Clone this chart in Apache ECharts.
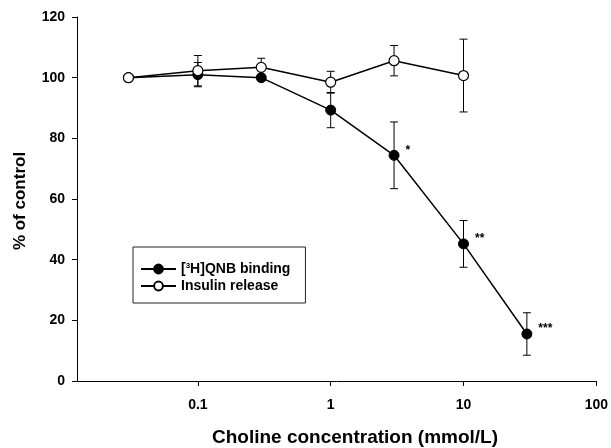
<!DOCTYPE html>
<html>
<head>
<meta charset="utf-8">
<script src="https://cdn.jsdelivr.net/npm/echarts@6/dist/echarts.min.js"></script>
<style>html,body{margin:0;padding:0;background:#fff}#c{width:611px;height:448px}</style>
</head>
<body>
<div id="c"></div>
<script>
// Choline concentrations (mmol/L)
var concQNB = [0.03, 0.1, 0.3, 1, 3, 10, 30];
var qnbBinding = [100, 101, 100, 89.3, 74.4, 45.2, 15.5];
var qnbErr = [0, 4, 1, 5.8, 11, 7.7, 7];
var qnbSig = ['', '', '', '', '*', '**', '***'];

var concIns = [0.03, 0.1, 0.3, 1, 3, 10];
var insulinRelease = [100, 102.3, 103.4, 98.5, 105.6, 100.7];
var insErr = [0, 5, 3, 3.6, 5, 12];

var xTickValues = [0.1, 1, 10, 100];
var xTickLabels = ['0.1', '1', '10', '100'];

var FONT = '"Liberation Sans", Arial, sans-serif';

function pts(xs, ys, sig) {
  return xs.map(function (x, i) {
    var d = { value: [x, ys[i]] };
    if (sig && sig[i]) {
      d.label = { show: true, formatter: sig[i] };
    }
    return d;
  });
}
function errData(xs, ys, es) {
  return xs.map(function (x, i) { return [x, ys[i], es[i]]; });
}
function errRender(params, api) {
  var x = api.value(0), y = api.value(1), e = api.value(2);
  if (!e) return null;
  var top = api.coord([x, y + e]);
  var bot = api.coord([x, y - e]);
  var w = 4;
  var st = { stroke: '#000', lineWidth: 1 };
  return {
    type: 'group',
    children: [
      { type: 'line', shape: { x1: top[0], y1: top[1], x2: bot[0], y2: bot[1] }, style: st },
      { type: 'line', shape: { x1: top[0] - w, y1: top[1], x2: top[0] + w, y2: top[1] }, style: st },
      { type: 'line', shape: { x1: bot[0] - w, y1: bot[1], x2: bot[0] + w, y2: bot[1] }, style: st }
    ]
  };
}

var chart = echarts.init(document.getElementById('c'), null, { renderer: 'canvas' });
chart.setOption({
  animation: false,
  backgroundColor: '#fff',
  textStyle: { fontFamily: FONT },
  grid: { left: 77, right: 14, top: 17, bottom: 67 },
  xAxis: {
    type: 'log',
    logBase: 10,
    min: 0.0123,
    max: 100,
    axisLine: { lineStyle: { color: '#000', width: 1 } },
    axisTick: { show: true, length: 5, lineStyle: { color: '#000' }, customValues: xTickValues },
    minorTick: { show: false },
    splitLine: { show: false },
    axisLabel: {
      customValues: xTickValues,
      margin: 17,
      color: '#000',
      fontSize: 14,
      fontWeight: 'bold',
      fontFamily: FONT,
      formatter: function (v) {
        for (var i = 0; i < xTickValues.length; i++) {
          if (Math.abs(v - xTickValues[i]) / xTickValues[i] < 1e-6) return xTickLabels[i];
        }
        return '';
      }
    }
  },
  yAxis: {
    type: 'value',
    min: 0,
    max: 120,
    interval: 20,
    axisLine: { show: true, lineStyle: { color: '#000', width: 1 } },
    axisTick: { show: true, length: 5, lineStyle: { color: '#000' } },
    splitLine: { show: false },
    axisLabel: { margin: 12, color: '#000', fontSize: 14, fontWeight: 'bold', fontFamily: FONT }
  },
  legend: {
    left: 133,
    top: 247,
    orient: 'vertical',
    padding: [15, 15, 10, 7],
    itemGap: 3,
    itemWidth: 35,
    itemHeight: 11,
    borderColor: '#222',
    borderWidth: 1,
    data: ['qnb', 'ins'],
    formatter: function (n) {
      return n === 'qnb' ? '[{sup|3}H]QNB binding' : 'Insulin release';
    },
    textStyle: {
      color: '#000',
      fontSize: 14,
      fontWeight: 'bold',
      fontFamily: FONT,
      lineHeight: 14,
      rich: {
        sup: { fontSize: 8, fontWeight: 'bold', fontFamily: FONT, color: '#000', verticalAlign: 'top', lineHeight: 14, padding: [0, 0, 6, 0] }
      }
    }
  },
  series: [
    {
      name: 'qnb',
      type: 'line',
      z: 3,
      data: pts(concQNB, qnbBinding, qnbSig),
      symbol: 'circle',
      symbolSize: 10,
      itemStyle: { color: '#000', borderColor: '#000', borderWidth: 1 },
      lineStyle: { color: '#000', width: 1.5 },
      label: { show: false, position: 'right', distance: 6, offset: [0, -5], color: '#000', fontSize: 12, fontWeight: 'bold', fontFamily: FONT },
      emphasis: { disabled: true }
    },
    {
      name: 'ins',
      type: 'line',
      z: 4,
      data: pts(concIns, insulinRelease),
      symbol: 'circle',
      symbolSize: 10,
      itemStyle: { color: '#fff', borderColor: '#000', borderWidth: 1.2 },
      lineStyle: { color: '#000', width: 1.5 },
      emphasis: { disabled: true }
    },
    {
      type: 'custom',
      z: 2,
      renderItem: errRender,
      data: errData(concQNB, qnbBinding, qnbErr),
      encode: { x: 0, y: 1 },
      silent: true
    },
    {
      type: 'custom',
      z: 2,
      renderItem: errRender,
      data: errData(concIns, insulinRelease, insErr),
      encode: { x: 0, y: 1 },
      silent: true
    }
  ],
  graphic: [
    {
      type: 'text',
      x: 355,
      y: 438,
      style: { text: 'Choline concentration (mmol/L)', fill: '#000', font: 'bold 19px ' + FONT, textAlign: 'center', textVerticalAlign: 'middle' }
    },
    {
      type: 'text',
      x: 20,
      y: 201,
      rotation: Math.PI / 2,
      style: { text: '% of control', fill: '#000', font: 'bold 17px ' + FONT, textAlign: 'center', textVerticalAlign: 'middle' }
    }
  ]
});
</script>
</body>
</html>
